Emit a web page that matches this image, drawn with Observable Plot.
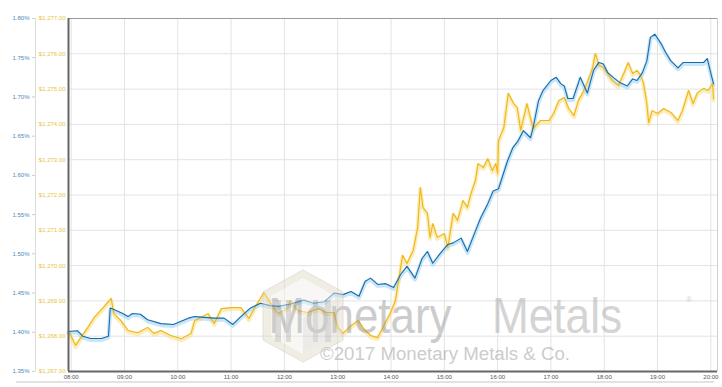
<!DOCTYPE html>
<html><head><meta charset="utf-8">
<script src="https://cdn.jsdelivr.net/npm/d3@7"></script>
<script src="https://cdn.jsdelivr.net/npm/@observablehq/plot@0.6"></script>
<style>body{margin:0;background:#fff} #chart svg{display:block}</style>
</head><body><div id="chart"></div>
<script>
const hours = [8,9,10,11,12,13,14,15,16,17,18,19,20];
const hourLabels = ["08:00","09:00","10:00","11:00","12:00","13:00","14:00","15:00","16:00","17:00","18:00","19:00","20:00"];
const pctTicks = [1.35,1.40,1.45,1.50,1.55,1.60,1.65,1.70,1.75,1.80];
const pctLabels = ["1.35%","1.40%","1.45%","1.50%","1.55%","1.60%","1.65%","1.70%","1.75%","1.80%"];
const goldTicks = [1267,1268,1269,1270,1271,1272,1273,1274,1275,1276,1277];
const goldLabels = ["$1,267.00","$1,268.00","$1,269.00","$1,270.00","$1,271.00","$1,272.00","$1,273.00","$1,274.00","$1,275.00","$1,276.00","$1,277.00"];

// Blue series: percent (left outer axis)
const blueTimes = ["07:57","08:07","08:13","08:22","08:34","08:42","08:44","08:48","08:58","09:04","09:09","09:18","09:26","09:41","09:55","10:12","10:19","10:30","10:41","10:52","11:02","11:11","11:22","11:33","11:44","11:53","12:07","12:22","12:33","12:45","12:56","13:06","13:15","13:24","13:31","13:37","13:45","13:54","14:03","14:11","14:18","14:27","14:35","14:41","14:47","14:55","15:04","15:10","15:19","15:26","15:35","15:41","15:49","15:55","16:01","16:05","16:11","16:17","16:23","16:29","16:37","16:40","16:46","16:51","17:00","17:06","17:11","17:15","17:19","17:25","17:33","17:41","17:48","17:54","17:59","18:04","18:10","18:18","18:26","18:32","18:37","18:43","18:48","18:52","18:57","19:04","19:09","19:15","19:23","19:29","19:37","19:45","19:52","19:56","20:00","20:03"];
const blueValues = [1.401,1.402,1.395,1.392,1.392,1.395,1.431,1.429,1.424,1.420,1.424,1.423,1.416,1.411,1.410,1.418,1.420,1.419,1.418,1.418,1.410,1.420,1.431,1.437,1.434,1.433,1.436,1.441,1.437,1.439,1.450,1.448,1.452,1.446,1.465,1.469,1.461,1.462,1.457,1.474,1.484,1.469,1.494,1.503,1.488,1.500,1.512,1.514,1.520,1.503,1.529,1.546,1.564,1.580,1.583,1.597,1.618,1.635,1.644,1.657,1.648,1.661,1.695,1.708,1.721,1.725,1.717,1.714,1.698,1.698,1.725,1.705,1.734,1.744,1.742,1.731,1.725,1.718,1.714,1.723,1.721,1.731,1.746,1.776,1.780,1.768,1.757,1.746,1.737,1.744,1.744,1.744,1.744,1.749,1.730,1.717];

// Gold series: dollars (left inner axis)
const goldTimes = ["07:57","08:05","08:10","08:18","08:26","08:36","08:45","08:48","08:56","09:04","09:15","09:26","09:33","09:41","09:52","10:04","10:15","10:19","10:26","10:34","10:41","10:49","11:00","11:11","11:20","11:26","11:37","11:44","11:53","12:04","12:07","12:15","12:26","12:38","12:47","12:56","13:00","13:06","13:15","13:23","13:29","13:37","13:45","13:52","13:59","14:05","14:08","14:13","14:18","14:25","14:30","14:33","14:36","14:41","14:44","14:47","14:52","15:00","15:04","15:10","15:15","15:21","15:26","15:30","15:35","15:38","15:44","15:49","15:54","15:58","16:00","16:01","16:07","16:12","16:18","16:22","16:26","16:33","16:40","16:48","16:58","17:03","17:09","17:15","17:20","17:26","17:31","17:36","17:41","17:47","17:50","17:54","17:59","18:04","18:09","18:16","18:22","18:27","18:32","18:37","18:41","18:44","18:48","18:50","18:54","19:00","19:07","19:15","19:23","19:28","19:35","19:40","19:45","19:52","19:57","20:02","20:03"];
const goldValues = [1268.16,1267.74,1267.93,1268.22,1268.53,1268.81,1269.07,1268.64,1268.44,1268.16,1268.10,1268.25,1268.08,1268.16,1268.02,1267.93,1268.08,1268.44,1268.53,1268.64,1268.36,1268.78,1268.81,1268.81,1268.50,1268.78,1269.24,1268.95,1268.64,1268.81,1269.01,1268.73,1268.67,1268.78,1268.67,1268.67,1268.25,1268.08,1268.30,1268.44,1268.22,1268.02,1267.96,1268.30,1268.64,1269.01,1269.49,1270.29,1270.06,1270.43,1271.08,1272.21,1271.65,1271.48,1270.80,1271.19,1270.80,1270.91,1270.51,1271.48,1271.28,1271.84,1271.65,1272.04,1272.41,1272.89,1272.78,1273.03,1272.69,1272.89,1272.61,1273.54,1273.91,1274.88,1274.59,1274.48,1273.83,1274.59,1273.88,1274.11,1274.11,1274.31,1274.68,1274.76,1274.45,1274.25,1274.68,1274.90,1275.19,1275.61,1276.01,1275.67,1275.61,1275.44,1275.24,1275.10,1275.44,1275.75,1275.44,1275.53,1275.39,1275.19,1274.59,1274.05,1274.39,1274.31,1274.45,1274.34,1274.11,1274.39,1274.96,1274.59,1274.90,1275.02,1274.96,1275.16,1274.73];

const toH = s => { const [h, m] = s.split(":").map(Number); return h + m / 60; };
const pctToY = p => 1267 + (p - 1.35) * 10 / 0.45;
const blue = blueTimes.map((t, i) => ({t: toH(t), v: pctToY(blueValues[i])}));
const gold = goldTimes.map((t, i) => ({t: toH(t), v: goldValues[i]}));
const pctPos = pctTicks.map(pctToY);

const X0 = 7.95, X1 = 20.125;
const chart = Plot.plot({
  width: 722, height: 387,
  marginLeft: 68, marginRight: 5, marginTop: 18, marginBottom: 16,
  style: {fontFamily: "'Liberation Sans', Arial, sans-serif", fontSize: "6px", background: "#fff", overflow: "visible"},
  x: {domain: [X0, X1]},
  y: {domain: [1267, 1277]},
  marks: [
    Plot.gridX(hours, {stroke: "#e3e3e3", strokeOpacity: 1}),
    Plot.gridY(goldTicks, {stroke: "#e3e3e3", strokeOpacity: 1}),
    Plot.ruleY([1277], {stroke: "#9a9a9a", strokeWidth: 1}),
    Plot.ruleX([X1], {stroke: "#d0d0d0", strokeWidth: 1}),
    Plot.line(gold, {x: "t", y: "v", stroke: "#f8dc80", strokeWidth: 4, strokeOpacity: 0.55, dy: 1.5}),
    Plot.line(blue, {x: "t", y: "v", stroke: "#a9d9f6", strokeWidth: 4, strokeOpacity: 0.65, dy: 1.5}),
    Plot.line(gold, {x: "t", y: "v", stroke: "#efb714", strokeWidth: 1.1}),
    Plot.line(blue, {x: "t", y: "v", stroke: "#1b6aa8", strokeWidth: 1.1}),
    Plot.ruleX([X0], {stroke: "#666", strokeWidth: 2}),
    Plot.ruleY([1267], {stroke: "#666", strokeWidth: 2}),
    Plot.ruleX([X0], {dx: -33, stroke: "#dcdcdc"}),
    Plot.axisX(hours, {anchor: "bottom", label: null, tickSize: 0, tickPadding: 3, fill: "#555",
      tickFormat: d => hourLabels[hours.indexOf(d)]}),
    Plot.axisY(goldTicks, {anchor: "left", label: null, tickSize: 0, tickPadding: 3, fill: "#e8c43c",
      tickFormat: d => goldLabels[goldTicks.indexOf(d)]}),
    Plot.axisY(pctPos, {anchor: "left", label: null, dx: -33, tickSize: 3, tickPadding: 3, fill: "#4b88b8", stroke: "#cccccc",
      tickFormat: d => pctLabels[pctPos.findIndex(p => Math.abs(p - d) < 1e-6)]})
  ]
});
document.getElementById("chart").append(chart);

// decorations: bottom separator and watermark
const svg = d3.select(chart);
svg.append("line").attr("x1", 16).attr("x2", 714).attr("y1", 382).attr("y2", 382)
  .attr("stroke", "#d8d8d8").attr("stroke-width", 1.5);

const wm = svg.append("g").attr("opacity", 0.5).attr("pointer-events", "none");
// cube logo
wm.append("polygon").attr("points", "303,270 343,292 343,340 303,362 263,340 263,292")
  .attr("fill", "#e2dccd").attr("stroke", "#c9c4b8").attr("stroke-width", 1);
wm.append("polygon").attr("points", "303,278 335,296 335,336 303,354 271,336 271,296")
  .attr("fill", "#f3f1ec");
wm.append("polygon").attr("points", "303,318 335,300 335,336 303,354")
  .attr("fill", "#dcd8d0");
[[275,6],[286,5],[313,5],[325,6]].forEach(([bx, bw]) => {
  wm.append("rect").attr("x", bx).attr("y", 300).attr("width", bw).attr("height", 42).attr("fill", "#b9b6b0");
});
const wmFont = "'Liberation Sans', Arial, sans-serif";
wm.append("text").attr("x", 360).attr("y", 333).attr("font-family", wmFont).attr("font-size", 50).attr("fill", "#9a9a9a")
  .attr("textLength", 183).attr("lengthAdjust", "spacingAndGlyphs").text("Monetary");
wm.append("text").attr("x", 557).attr("y", 333).attr("font-family", wmFont).attr("font-size", 50).attr("fill", "#aaaaaa")
  .attr("textLength", 130).attr("lengthAdjust", "spacingAndGlyphs").text("Metals");
wm.append("text").attr("x", 689).attr("y", 302).attr("font-family", wmFont).attr("font-size", 8).attr("fill", "#aaaaaa").text("®");
wm.append("text").attr("x", 445).attr("y", 359.5).attr("font-family", wmFont).attr("font-size", 18).attr("fill", "#9a9a9a")
  .attr("textLength", 250).attr("lengthAdjust", "spacingAndGlyphs").text("©2017 Monetary Metals & Co.");
</script>
</body></html>
